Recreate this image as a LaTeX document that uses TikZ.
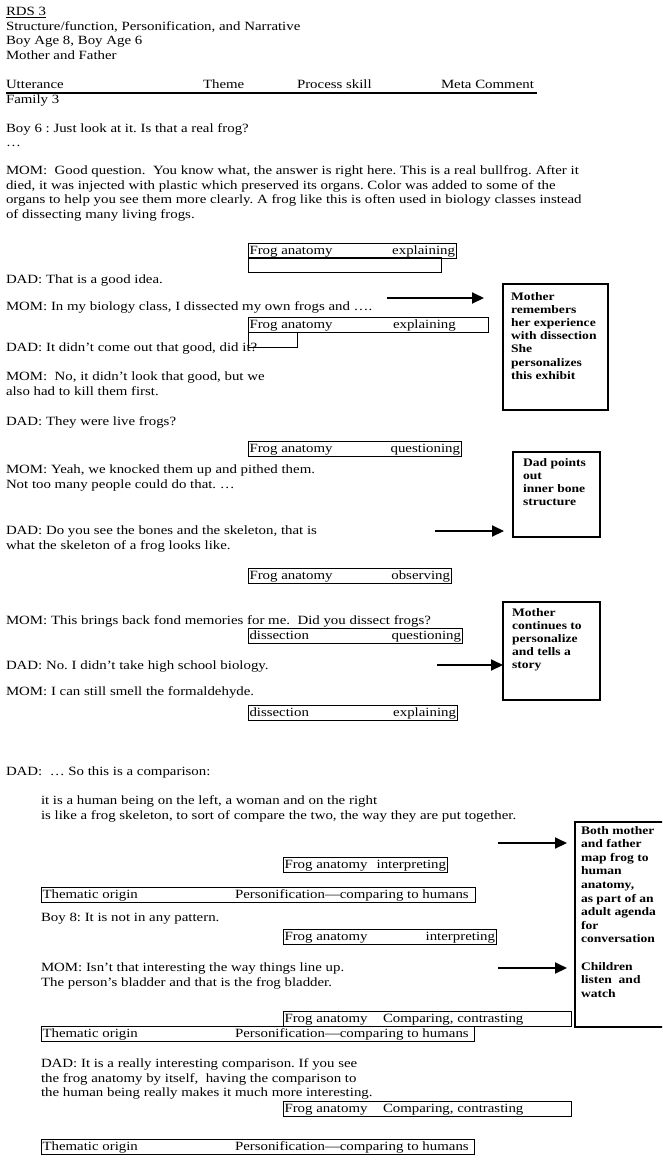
\documentclass[tikz,border=0pt]{standalone}
\usepackage{fontspec}
\setmainfont{Liberation Serif}[FakeStretch=1.18]
\usetikzlibrary{arrows.meta}
\newcommand{\bodyfont}{\fontsize{12.6}{14.6}\selectfont\frenchspacing}
\newcommand{\notefont}{\fontsize{11.5}{13.2}\selectfont\bfseries}
\newcommand{\widenotefont}{\fontsize{11.5}{13.6}\selectfont\bfseries}
\begin{document}
\begin{tikzpicture}[x=1pt,y=-1pt,
  % multi-line texts are placed by the baseline of their last line
  txt/.style={anchor=base west, inner sep=0, outer sep=0, align=left, font=\bodyfont},
  tagbox/.style={draw, line width=0.8pt, anchor=north west, inner sep=0, outer sep=0, minimum height=15pt},
  tagL/.style={anchor=base west, inner sep=0, outer sep=0, font=\bodyfont},
  tagR/.style={anchor=base east, inner sep=0, outer sep=0, font=\bodyfont},
  note/.style={draw, line width=1.1pt, anchor=north west, inner sep=0, outer sep=0},
  notetext/.style={anchor=base west, inner sep=0, outer sep=0, align=left, font=\notefont},
  pointer/.style={line width=2pt, -{Triangle[length=12pt,width=11pt]}},
]
\useasboundingbox (0,0) rectangle (662,1165);
\fill[white] (0,0) rectangle (662,1165);
\clip (0,0) rectangle (662,1165);

% ---- heading block
\node[txt] (title) at (6,59.3) {\underline{RDS 3}\\Structure/function, Personification, and Narrative\\Boy Age 8, Boy Age 6\\Mother and Father};
\node[txt] (hutt) at (6,88.5) {Utterance};
\node[txt] (htheme) at (203,88.5) {Theme};
\node[txt] (hproc) at (297,88.5) {Process skill};
\node[txt] (hmeta) at (441,88.5) {Meta Comment};
\draw[line width=2pt] (hutt.base west) ++(0,4) -- ++(531,0);
\node[txt] (fam) at (6,103.5) {Family 3};

% ---- transcript
\node[txt] (u1) at (6,146.6) {Boy 6 : Just look at it. Is that a real frog?\\…};
\node[txt] (u2) at (6,218.3) {MOM:\ \ Good question.\ \ You know what, the answer is right here. This is a real bullfrog. After it\\died, it was injected with plastic which preserved its organs. Color was added to some of the\\organs to help you see them more clearly. A frog like this is often used in biology classes instead\\of dissecting many living frogs.};

\node[tagbox, minimum width=208pt] (b1) at (248,243) {};
\node[tagL] (b1l) at ([xshift=1.5pt,yshift=-11pt]b1.north west) {Frog anatomy};
\node[tagR] (b1r) at ([xshift=-1pt,yshift=-11pt]b1.north east) {explaining};
\node[tagbox, minimum width=193pt, minimum height=14.5pt] (b1x) at (248,257.5) {};

\node[txt] (u3) at (6,283.5) {DAD: That is a good idea.};
\node[txt] (u4) at (6,310.5) {MOM: In my biology class, I dissected my own frogs and ….};

\node[tagbox, minimum width=240pt] (b2) at (248,317.5) {};
\node[tagL] (b2l) at ([xshift=1.5pt,yshift=-11pt]b2.north west) {Frog anatomy};
\node[tagL] (b2r) at ([xshift=145pt,yshift=-11pt]b2.north west) {explaining};
\node[tagbox, minimum width=49pt] (b2x) at (248,332.5) {};

\node[txt] (u5) at (6,351) {DAD: It didn’t come out that good, did it?};
\node[txt] (u6) at (6,395.1) {MOM:\ \ No, it didn’t look that good, but we\\also had to kill them first.};
\node[txt] (u7) at (6,425.5) {DAD: They were live frogs?};

\node[tagbox, minimum width=213pt] (b3) at (248,441) {};
\node[tagL] (b3l) at ([xshift=1.5pt,yshift=-11pt]b3.north west) {Frog anatomy};
\node[tagR] (b3r) at ([xshift=-1pt,yshift=-11pt]b3.north east) {questioning};

\node[txt] (u8) at (6,488.1) {MOM: Yeah, we knocked them up and pithed them.\\Not too many people could do that. …};
\node[txt] (u9) at (6,549.1) {DAD: Do you see the bones and the skeleton, that is\\what the skeleton of a frog looks like.};

\node[tagbox, minimum width=203pt] (b4) at (248,568.5) {};
\node[tagL] (b4l) at ([xshift=1.5pt,yshift=-11pt]b4.north west) {Frog anatomy};
\node[tagR] (b4r) at ([xshift=-1pt,yshift=-11pt]b4.north east) {observing};

\node[txt] (u10) at (6,624.5) {MOM: This brings back fond memories for me.\ \ Did you dissect frogs?};

\node[tagbox, minimum width=214pt] (b5) at (248,628.5) {};
\node[tagL] (b5l) at ([xshift=1.5pt,yshift=-11pt]b5.north west) {dissection};
\node[tagR] (b5r) at ([xshift=-1pt,yshift=-11pt]b5.north east) {questioning};

\node[txt] (u11) at (6,669) {DAD: No. I didn’t take high school biology.};
\node[txt] (u12) at (6,695) {MOM: I can still smell the formaldehyde.};

\node[tagbox, minimum width=209pt] (b6) at (248,705) {};
\node[tagL] (b6l) at ([xshift=1.5pt,yshift=-11pt]b6.north west) {dissection};
\node[tagR] (b6r) at ([xshift=-1pt,yshift=-11pt]b6.north east) {explaining};

\node[txt] (u13) at (6,775.5) {DAD:\ \ … So this is a comparison:};
\node[txt] (u14) at (41,819.1) {it is a human being on the left, a woman and on the right\\is like a frog skeleton, to sort of compare the two, the way they are put together.};

\node[tagbox, minimum width=164pt] (b7) at (283,857) {};
\node[tagL] (b7l) at ([xshift=1.5pt,yshift=-11pt]b7.north west) {Frog anatomy};
\node[tagR] (b7r) at ([xshift=-1pt,yshift=-11pt]b7.north east) {interpreting};

\node[tagbox, minimum width=434pt] (b8) at (41,887) {};
\node[tagL] (b8l) at ([xshift=1.5pt,yshift=-11pt]b8.north west) {Thematic origin};
\node[tagL] (b8r) at ([xshift=194pt,yshift=-11pt]b8.north west) {Personification—comparing to humans};

\node[txt] (u15) at (41,921.5) {Boy 8: It is not in any pattern.};

\node[tagbox, minimum width=213pt] (b9) at (283,929.5) {};
\node[tagL] (b9l) at ([xshift=1.5pt,yshift=-11pt]b9.north west) {Frog anatomy};
\node[tagR] (b9r) at ([xshift=-1pt,yshift=-11pt]b9.north east) {interpreting};

\node[txt] (u16) at (41,986.1) {MOM: Isn’t that interesting the way things line up.\\The person’s bladder and that is the frog bladder.};

\node[tagbox, minimum width=288pt] (b10) at (283,1011) {};
\node[tagL] (b10l) at ([xshift=1.5pt,yshift=-11pt]b10.north west) {Frog anatomy};
\node[tagL] (b10r) at ([xshift=100pt,yshift=-11pt]b10.north west) {Comparing, contrasting};
\node[tagbox, minimum width=433pt] (b11) at (41,1026) {};
\node[tagL] (b11l) at ([xshift=1.5pt,yshift=-11pt]b11.north west) {Thematic origin};
\node[tagL] (b11r) at ([xshift=194pt,yshift=-11pt]b11.north west) {Personification—comparing to humans};

\node[txt] (u17) at (41,1096.7) {DAD: It is a really interesting comparison. If you see\\the frog anatomy by itself,\ \ having the comparison to\\the human being really makes it much more interesting.};

\node[tagbox, minimum width=288pt] (b12) at (283,1101) {};
\node[tagL] (b12l) at ([xshift=1.5pt,yshift=-11pt]b12.north west) {Frog anatomy};
\node[tagL] (b12r) at ([xshift=100pt,yshift=-11pt]b12.north west) {Comparing, contrasting};

\node[tagbox, minimum width=433pt] (b13) at (41,1139) {};
\node[tagL] (b13l) at ([xshift=1.5pt,yshift=-11pt]b13.north west) {Thematic origin};
\node[tagL] (b13r) at ([xshift=194pt,yshift=-11pt]b13.north west) {Personification—comparing to humans};

% ---- meta comments
\node[note, minimum width=105pt, minimum height=126pt] (m1) at (503,284) {};
\node[notetext] (m1t) at (511,379.2) {Mother\\remembers\\her experience\\with dissection\\She\\personalizes\\this exhibit};
\coordinate (a1s) at (387,298);
\coordinate (a1e) at (484,298);
\draw[pointer] (a1s) -- (a1e);

\node[note, minimum width=87pt, minimum height=85pt] (m2) at (513,452) {};
\node[notetext] (m2t) at (523,505.6) {Dad points\\out\\inner bone\\structure};
\coordinate (a2s) at (435,531);
\coordinate (a2e) at (504,531);
\draw[pointer] (a2s) -- (a2e);

\node[note, minimum width=97pt, minimum height=98pt] (m3) at (503,602) {};
\node[notetext] (m3t) at (512,668.8) {Mother\\continues to\\personalize\\and tells a\\story};
\coordinate (a3s) at (437,665);
\draw[pointer] (a3s) -- (a3s -| m3.west);

\node[note, minimum width=100pt, minimum height=205pt] (m4) at (575,822) {};
\node[notetext, font=\widenotefont] (m4t) at (581,997.2) {Both mother\\and father\\map frog to\\human\\anatomy,\\as part of an\\adult agenda\\for\\conversation\\[13.6pt]Children\\listen\ \ and\\watch};
\coordinate (a4s) at (498,843);
\coordinate (a4e) at (567,843);
\draw[pointer] (a4s) -- (a4e);
\coordinate (a5s) at (498,968);
\coordinate (a5e) at (567,968);
\draw[pointer] (a5s) -- (a5e);
\end{tikzpicture}
\end{document}
